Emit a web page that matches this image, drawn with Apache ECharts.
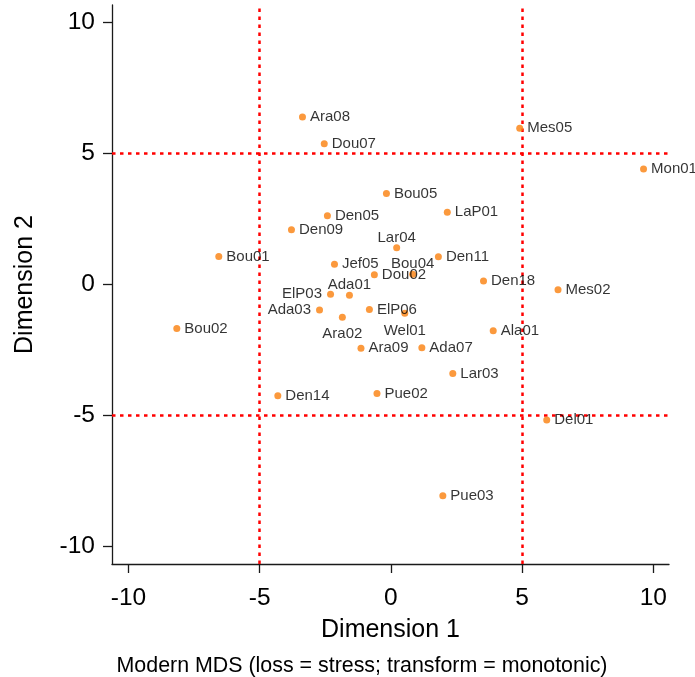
<!DOCTYPE html>
<html>
<head>
<meta charset="utf-8">
<script src="https://cdn.jsdelivr.net/npm/echarts@6/dist/echarts.min.js"></script>
<style>
  html, body { margin: 0; padding: 0; background: #fff; }
  #chart { width: 695px; height: 677px; }
</style>
</head>
<body>
<div id="chart"></div>
<script>
// Site codes and their coordinates on the two MDS dimensions
const sites = ['Ara08','Dou07','Mes05','Mon01','Bou05','LaP01','Den05','Den09','Lar04','Bou01',
               'Den11','Jef05','Dou02','Bou04','Den18','Mes02','ElP03','Ada01','Ada03','ElP06',
               'Wel01','Ara02','Bou02','Ala01','Ara09','Ada07','Lar03','Den14','Pue02','Del01','Pue03'];
const dim1 = [-3.37,-2.54,4.91,9.63,-0.17,2.15,-2.42,-3.79,0.22,-6.56,
              1.81,-2.15,-0.63,0.83,3.53,6.37,-2.30,-1.58,-2.72,-0.82,
              0.53,-1.85,-8.16,3.90,-1.14,1.18,2.36,-4.31,-0.53,5.94,1.98];
const dim2 = [6.37,5.35,5.94,4.39,3.46,2.74,2.61,2.08,1.39,1.06,
              1.05,0.76,0.36,0.38,0.12,-0.21,-0.38,-0.42,-0.98,-0.96,
              -1.11,-1.26,-1.69,-1.77,-2.44,-2.42,-3.40,-4.25,-4.16,-5.17,-8.06];
// Where each marker label sits relative to its point
const labelSide = ['right','right','right','right','right','right','right','right','top','right',
                   'right','right','right','top','right','right','left','top','left','right',
                   'bottom','bottom','right','right','right','right','right','right','right','right','right'];
// Axis ticks and reference lines
const tickValues = [-10, -5, 0, 5, 10];
const refLines = [-5, 5];
const xTitle = 'Dimension 1';
const yTitle = 'Dimension 2';
const note = 'Modern MDS (loss = stress; transform = monotonic)';

const FONT = '"Liberation Sans", Arial, Helvetica, sans-serif';
const sideDistance = { right: 4, left: 5, top: -1, bottom: 6 };

const points = sites.map((name, i) => ({
  name: name,
  value: [dim1[i], dim2[i]],
  label: { position: labelSide[i], distance: sideDistance[labelSide[i]] }
}));

const axisCommon = {
  type: 'value',
  splitLine: { show: false },
  axisLine: { show: true, onZero: false, lineStyle: { color: '#1a1a1a', width: 1.3 } },
  axisTick: { show: true, inside: false, length: 9, customValues: tickValues,
              lineStyle: { color: '#1a1a1a', width: 1.3 } },
  nameLocation: 'middle',
  nameTextStyle: { fontFamily: FONT, fontSize: 25, color: '#000' }
};

const chart = echarts.init(document.getElementById('chart'), null, { renderer: 'canvas' });
chart.setOption({
  animation: false,
  backgroundColor: '#fff',
  grid: { left: 112, right: 26, top: 5, bottom: 113, containLabel: false },
  xAxis: Object.assign({}, axisCommon, {
    min: -10.63, max: 10.6,
    name: xTitle, nameGap: 54,
    axisLabel: { customValues: tickValues, margin: 22, fontFamily: FONT, fontSize: 24.5, color: '#000' }
  }),
  yAxis: Object.assign({}, axisCommon, {
    min: -10.66, max: 10.64,
    name: yTitle, nameGap: 74, nameRotate: 90,
    axisLabel: { customValues: tickValues, margin: 17, fontFamily: FONT, fontSize: 24.5, color: '#000' }
  }),
  graphic: [{
    type: 'text',
    x: 362, y: 666,
    style: {
      text: note,
      font: '21.4px ' + FONT,
      fill: '#000',
      textAlign: 'center',
      textVerticalAlign: 'middle'
    }
  }],
  series: [{
    type: 'scatter',
    z: 3,
    symbol: 'circle',
    symbolSize: 7,
    itemStyle: { color: '#FA7F0C' },
    label: {
      show: true,
      formatter: p => p.name,
      fontFamily: FONT,
      fontSize: 15,
      color: '#000'
    },
    data: points,
    markLine: {
      silent: true,
      z: 1,
      symbol: 'none',
      label: { show: false },
      lineStyle: { color: '#FF0000', width: 2.5, type: [3.5, 4.5], opacity: 1 },
      emphasis: { disabled: true },
      data: refLines.map(v => ({ xAxis: v })).concat(refLines.map(v => ({ yAxis: v })))
    }
  }]
});
</script>
</body>
</html>
